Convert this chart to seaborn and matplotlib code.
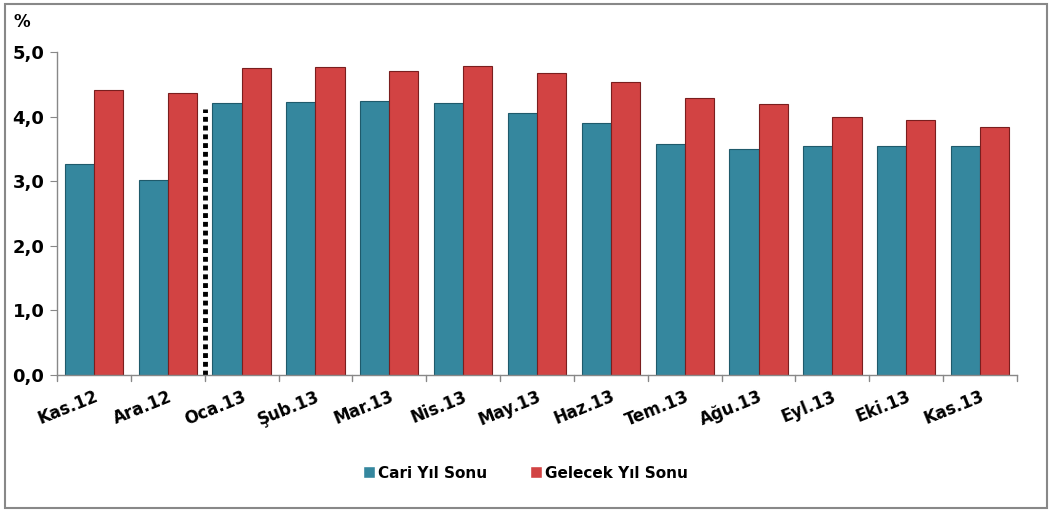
import matplotlib
matplotlib.use("Agg")
import matplotlib.pyplot as plt
import seaborn as sns
import pandas as pd
from matplotlib.patches import Rectangle

months = ["Kas.12", "Ara.12", "Oca.13", "Şub.13", "Mar.13", "Nis.13", "May.13",
          "Haz.13", "Tem.13", "Ağu.13", "Eyl.13", "Eki.13", "Kas.13"]
cari = [3.26, 3.02, 4.21, 4.23, 4.24, 4.21, 4.06, 3.90, 3.58, 3.50, 3.54, 3.54, 3.55]
gelecek = [4.41, 4.36, 4.75, 4.77, 4.71, 4.78, 4.67, 4.53, 4.29, 4.19, 3.99, 3.95, 3.84]
series_names = ["Cari Yıl Sonu", "Gelecek Yıl Sonu"]
yticks = [0, 1, 2, 3, 4, 5]
ytick_labels = ["0,0", "1,0", "2,0", "3,0", "4,0", "5,0"]
divider_height = 4.12

df = pd.DataFrame({
    "Ay": months * 2,
    "Seri": [series_names[0]] * len(months) + [series_names[1]] * len(months),
    "Değer": cari + gelecek,
})

sns.set_style("white")
plt.rcParams["font.family"] = ["Verdana", "DejaVu Sans"]
plt.rcParams["text.color"] = "black"
plt.rcParams["xtick.color"] = "black"
plt.rcParams["ytick.color"] = "black"
plt.rcParams["xtick.labelcolor"] = "black"
plt.rcParams["ytick.labelcolor"] = "black"

fig = plt.figure(figsize=(10.51, 5.12), dpi=100)
ax = fig.add_axes([0.0542, 0.2676, 0.9135, 0.6308])

palette = {series_names[0]: "#35879e", series_names[1]: "#d24343"}
sns.barplot(data=df, x="Ay", y="Değer", hue="Seri", palette=palette, width=0.79,
            ax=ax, saturation=1, legend=True)
edges = {series_names[0]: "#1f5a6b", series_names[1]: "#7a1e1e"}
for container, name in zip(ax.containers, series_names):
    for bar in container:
        bar.set_edgecolor(edges[name])
        bar.set_linewidth(0.8)

ax.vlines(1.5, 0, divider_height, colors="black", linestyles=(0, (1, 0.8)), linewidth=3.5)

ax.set_xlim(-0.5, len(months) - 0.5)
ax.set_ylim(0, 5)
ax.set_yticks(yticks)
ax.set_yticklabels(ytick_labels, fontsize=13, fontweight="bold", color="black")
ax.set_xticks(range(len(months)))
ax.set_xticklabels(months, rotation=22, ha="right", rotation_mode="anchor",
                   fontsize=12, fontweight="bold", color="black")
ax.tick_params(axis="x", length=0, pad=9)
ax.tick_params(axis="y", length=5, color="#888888", direction="out", left=True, pad=4)
for b in [i - 0.5 for i in range(len(months) + 1)]:
    ax.plot([b, b], [0, -0.09], color="#888888", lw=1, clip_on=False)
ax.set_xlabel("")
ax.set_ylabel("")
for s in ["top", "right"]:
    ax.spines[s].set_visible(False)
for s in ["left", "bottom"]:
    ax.spines[s].set_color("#888888")
    ax.spines[s].set_linewidth(1)

fig.text(13 / 1051, 1 - 22 / 512, "%", fontsize=12, fontweight="bold", va="center", color="black")

leg = ax.legend(loc="center", bbox_to_anchor=(0.5, 1 - 473 / 512), bbox_transform=fig.transFigure,
                ncol=2, frameon=False, prop={"weight": "bold", "size": 11},
                handlelength=0.8, handleheight=0.8, columnspacing=2.8, handletextpad=0.2)
for t in leg.get_texts():
    t.set_color("black")

fig.patches.append(Rectangle((5 / 1051, 4 / 512), 1042 / 1051, 504 / 512,
                             transform=fig.transFigure, fill=False,
                             edgecolor="#888888", linewidth=1.5))

fig.savefig("out.png", dpi=100)
